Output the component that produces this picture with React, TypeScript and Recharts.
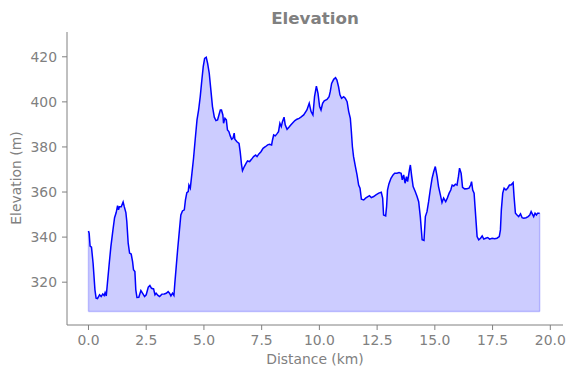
import { ComposedChart, Area, XAxis, YAxis, ReferenceLine } from "recharts";

// Elevation profile (km, m)
const DISTANCE = [
  0.0, 0.03, 0.07, 0.13, 0.2, 0.28, 0.33, 0.39, 0.48, 0.55, 0.62, 0.68, 0.72, 0.77, 0.82, 0.9, 0.97,
  1.06, 1.13, 1.2, 1.26, 1.3, 1.34, 1.42, 1.5, 1.55, 1.62, 1.66, 1.72, 1.78, 1.85, 1.91, 1.95,
  2.01, 2.05, 2.1, 2.18, 2.27, 2.36, 2.43, 2.5, 2.59, 2.66, 2.73, 2.82, 2.88, 2.93,
  3.01, 3.08, 3.18, 3.28, 3.37, 3.45, 3.51, 3.57, 3.64, 3.7, 3.74, 3.8, 3.86, 3.94,
  4.0, 4.07, 4.15, 4.2, 4.26, 4.32, 4.35, 4.41, 4.48, 4.55, 4.62, 4.7, 4.77, 4.84, 4.91, 4.97,
  5.03, 5.1, 5.16, 5.23, 5.3, 5.37, 5.45, 5.52, 5.59, 5.65, 5.71, 5.76, 5.82, 5.85, 5.91, 5.97,
  6.02, 6.08, 6.14, 6.2, 6.26, 6.31, 6.34, 6.43, 6.52, 6.57, 6.63, 6.67, 6.75, 6.83, 6.89, 6.98,
  7.06, 7.15, 7.24, 7.3, 7.38, 7.47, 7.56, 7.66, 7.76, 7.84, 7.93, 7.97,
  8.02, 8.09, 8.16, 8.23, 8.29, 8.35, 8.4, 8.47, 8.52, 8.6, 8.68, 8.77, 8.86, 8.94,
  9.03, 9.12, 9.2, 9.32, 9.46, 9.56, 9.64, 9.72, 9.79, 9.87, 9.94,
  10.01, 10.07, 10.14, 10.21, 10.33, 10.42, 10.47, 10.53, 10.62, 10.7, 10.76, 10.83, 10.89, 10.96,
  11.05, 11.12, 11.2, 11.27, 11.34, 11.38, 11.43, 11.48, 11.56, 11.63, 11.7, 11.76, 11.82, 11.92,
  12.0, 12.1, 12.17, 12.25, 12.35, 12.45, 12.57, 12.68, 12.74, 12.78, 12.87, 12.91, 12.95,
  13.01, 13.1, 13.19, 13.26, 13.36, 13.45, 13.54, 13.59, 13.65, 13.71, 13.77, 13.82, 13.9, 13.94,
  14.0, 14.06, 14.15, 14.23, 14.3, 14.37, 14.45, 14.53, 14.59, 14.66, 14.73, 14.8, 14.88, 14.95,
  15.02, 15.1, 15.16, 15.24, 15.31, 15.38, 15.47, 15.54, 15.62, 15.69, 15.75, 15.82, 15.89, 15.96,
  16.02, 16.07, 16.14, 16.2, 16.29, 16.39, 16.48, 16.55, 16.59, 16.64, 16.7, 16.74, 16.79, 16.83, 16.9, 16.98,
  17.05, 17.12, 17.2, 17.29, 17.37, 17.48, 17.59, 17.69, 17.79, 17.84, 17.88, 17.94,
  18.0, 18.08, 18.15, 18.23, 18.3, 18.39, 18.43, 18.49, 18.56, 18.63, 18.71, 18.78, 18.85, 18.95,
  19.04, 19.11, 19.17, 19.22, 19.28, 19.34, 19.4, 19.45, 19.54,
];

const ELEVATION = [
  342.7, 341.7, 336, 335.5, 328.4, 316.6, 312.9, 312.7, 314.4, 313.6, 314.8, 314.1, 315.4, 313.9, 319.5, 328.4, 335.8,
  343.2, 348.6, 350.9, 354, 352.1, 353.5, 353.5, 355.6, 353.5, 350.9, 346.9, 337.3, 332.9, 332.5, 329.1, 325.5,
  324.7, 316.6, 313.2, 313.3, 316.3, 314.8, 313.6, 314.4, 317.8, 318.5, 317.3, 317, 314.4, 315.1,
  314.1, 313.6, 314.7, 314.8, 315.1, 315.8, 315.1, 313.9, 315.1, 314.1, 319.6, 326.9, 334.3, 343.2,
  349.8, 351.6, 352.1, 356.5, 359.7, 360.2, 363.1, 361.7, 368.3, 375, 383.1, 392, 396.4, 402.3, 409.7, 415.6,
  419.3, 419.8, 417.1, 412.7, 405.3, 397.9, 393.2, 391.7, 392, 394.2, 396.4, 396.4, 394.2, 390.5, 392.7, 392,
  387.5, 386.8, 384.9, 383.4, 383.9, 386.1, 383.4, 382.3, 381.6, 377.9, 372, 369.5, 371.3, 372.8, 373.8, 373.5,
  374.5, 375.7, 376.4, 375.7, 376.9, 377.9, 379.4, 380.1, 380.9, 381.2, 380.9, 383.1,
  385.3, 384.9, 385.8, 386.8, 390.5, 389, 391.2, 393.2, 389.8, 387.8, 388.7, 389.8, 390.8, 391.7,
  392.3, 392.7, 393.2, 394.2, 396.4, 399.4, 395.7, 394.2, 402.3, 407, 403.8,
  397.9, 396.4, 399.4, 400.5, 401.1, 402.3, 404.5, 408.2, 410, 410.7, 409.7, 406.7, 403.1, 401.6,
  402.3, 401.6, 400.1, 395.7, 392.7, 387.5, 380.1, 375.7, 371.3, 367.6, 363.1, 361.7, 356.8, 356.5,
  357.3, 358, 358.4, 357.5, 358, 358.7, 359.5, 359.9, 357.3, 349.8, 349.4, 353.5, 360.9,
  363.6, 366.1, 367.6, 368.3, 368.3, 368.6, 368.3, 365.4, 367.6, 363.9, 366.8, 364.6, 369.8, 372,
  366.8, 362.4, 360.2, 358, 355.7, 349.1, 338.8, 338.5, 349.1, 351.3, 355.7, 360.9, 366.1, 369,
  371.3, 366.8, 362.4, 358.7, 355.3, 357.3, 355.7, 357.3, 359.5, 360.9, 363.1, 362.7, 363.5, 363.1,
  366.8, 370.6, 368.3, 362.1, 361.4, 361.5, 361.7, 363.1, 364.6, 360.9, 359.5, 353.5, 346.2, 340.2, 338.8, 339.5,
  340.5, 339.1, 339.5, 339.8, 339.1, 339.5, 339.3, 339.5, 340.2, 343.2, 352.1, 359.5,
  361.7, 360.9, 361.7, 363.1, 363.1, 364.2, 358, 350.6, 349.8, 349.1, 350.3, 348.6, 348.4, 348.6,
  349.1, 349.8, 351.3, 350.3, 349.1, 350.6, 349.8, 350.6, 350.6,
];

const BASE = 307;
const X_TICKS = [0, 2.5, 5, 7.5, 10, 12.5, 15, 17.5, 20];
const Y_TICKS = [320, 340, 360, 380, 400, 420];

const data = DISTANCE.map((d, i) => ({ dist: d, elev: ELEVATION[i] }));

const FONT = "'DejaVu Sans', sans-serif";
const GREY = "#808080";
const TICK = { fill: GREY, fontSize: 13.9, fontFamily: FONT };
const EDGE = "rgba(0,0,255,0.2)";

const first = DISTANCE[0];
const last = DISTANCE[DISTANCE.length - 1];

export default function App() {
  return (
    <div style={{ position: "absolute", left: 0, top: 0, width: 574, height: 378, background: "#fff" }}>
      <ComposedChart width={574} height={378} data={data} margin={{ top: 32, right: 11, left: 0, bottom: 0 }}>
        <XAxis
          dataKey="dist"
          type="number"
          domain={[-0.93, 20.55]}
          ticks={X_TICKS}
          tickFormatter={(v) => Number(v).toFixed(1)}
          tick={TICK}
          tickSize={5}
          tickMargin={5}
          height={53}
          stroke={GREY}
          interval={0}
        />
        <YAxis
          type="number"
          domain={[301, 431]}
          ticks={Y_TICKS}
          tick={TICK}
          tickSize={5}
          tickMargin={5}
          width={67}
          stroke={GREY}
          interval={0}
        />
        <Area
          type="linear"
          dataKey="elev"
          baseValue={BASE}
          fill="#0000ff"
          fillOpacity={0.2}
          stroke="#0000ff"
          strokeWidth={1.5}
          dot={false}
          activeDot={false}
          isAnimationActive={false}
        />
        <ReferenceLine segment={[{ x: first, y: BASE }, { x: last, y: BASE }]} stroke={EDGE} strokeWidth={1.5} />
        <ReferenceLine segment={[{ x: last, y: BASE }, { x: last, y: ELEVATION[ELEVATION.length - 1] }]} stroke={EDGE} strokeWidth={1.5} />
        <ReferenceLine segment={[{ x: first, y: BASE }, { x: first, y: ELEVATION[0] }]} stroke={EDGE} strokeWidth={1.5} />
      </ComposedChart>
      <svg width={574} height={378} style={{ position: "absolute", left: 0, top: 0, pointerEvents: "none" }}>
        <text x={315} y={24} textAnchor="middle" fill={GREY} fontFamily={FONT} fontSize={16.7} fontWeight="bold">
          Elevation
        </text>
        <text x={315} y={364} textAnchor="middle" fill={GREY} fontFamily={FONT} fontSize={13.9}>
          Distance (km)
        </text>
        <text
          x={0}
          y={0}
          transform="translate(21,178) rotate(-90)"
          textAnchor="middle"
          fill={GREY}
          fontFamily={FONT}
          fontSize={13.9}
        >
          Elevation (m)
        </text>
      </svg>
    </div>
  );
}
